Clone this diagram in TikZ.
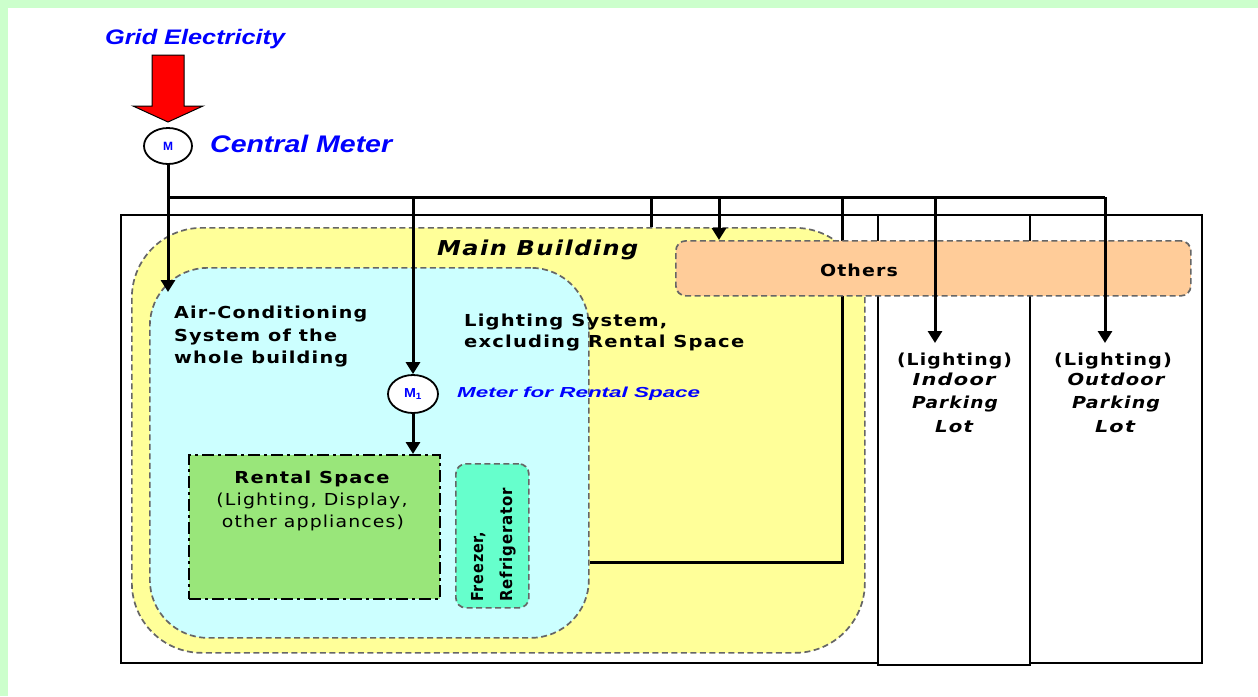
\documentclass[tikz,border=0pt]{standalone}
\usepackage{fontspec}
\usepackage{graphicx}
\usetikzlibrary{arrows.meta,shapes.geometric}
\newfontfamily\dvs[LetterSpace=6]{DejaVu Sans}
\newfontfamily\lib{Liberation Sans}
\definecolor{bggreen}{HTML}{CCFFCC}
\definecolor{mbyellow}{HTML}{FFFF99}
\definecolor{accyan}{HTML}{CCFFFF}
\definecolor{othorange}{HTML}{FFCC99}
\definecolor{rentgreen}{HTML}{99E67A}
\definecolor{frzgreen}{HTML}{66FFCC}
\definecolor{dashgray}{HTML}{666666}
\definecolor{metblue}{HTML}{0000FF}
\newcommand\fw[2]{\resizebox{#1pt}{\height}{#2}}
\newcommand\fs[1]{\fontsize{#1}{#1}\selectfont}
\begin{document}
\begin{tikzpicture}[x=1pt,y=-1pt,
  lotbox/.style={draw=black, line width=2pt, fill=white, inner sep=0pt, anchor=north west},
  zone/.style={draw=dashgray, line width=1.7pt, dash pattern=on 6pt off 3.5pt, inner sep=0pt, anchor=north west},
  feed/.style={draw=black, line width=3pt},
  arr/.style={feed, -{Triangle[width=14pt,length=12pt]}},
  meter/.style={ellipse, draw=black, fill=white, line width=1.8pt, minimum width=48pt, minimum height=36pt, inner sep=0pt},
  tx/.style={inner sep=0pt, anchor=base west},
  txc/.style={inner sep=0pt, anchor=base},
  bluetxt/.style={tx, text=metblue, font=\lib\bfseries\itshape},
  blk/.style={font=\dvs\bfseries},
  blki/.style={font=\dvs\bfseries\itshape}
]
\useasboundingbox (0,0) rectangle (1258,696);
% background
\fill[bggreen] (0,0) rectangle (1258,696);
\fill[white] (8,8) rectangle (1258,696);

% lots
\node[lotbox, minimum width=757pt, minimum height=448pt] (main) at (120,214) {};
\node[lotbox, minimum width=152pt, minimum height=450pt] (indoor) at (877,214) {};
\node[lotbox, minimum width=172pt, minimum height=448pt] (outdoor) at (1029,214) {};

% zones
\node[zone, fill=mbyellow, rounded corners=70pt, minimum width=733pt, minimum height=425pt] (mb) at (131,227) {};
\node[zone, fill=accyan, rounded corners=58pt, minimum width=439pt, minimum height=370pt] (aczone) at (149,267) {};

% lighting system feed (under Others)
\coordinate (j3) at (842,197);
\coordinate (lcorner) at (842,562);
\draw[feed] (j3) -- (lcorner) -- (lcorner -| aczone.east);

\node[zone, fill=othorange, rounded corners=10pt, minimum width=515pt, minimum height=55pt] (others) at (675,240) {};
\node[inner sep=0pt, anchor=north west, draw=black, line width=2pt, dash pattern=on 12pt off 4pt on 3pt off 4pt, fill=rentgreen, minimum width=251pt, minimum height=144pt] (rental) at (188,454) {};
\node[zone, fill=frzgreen, rounded corners=10pt, minimum width=73pt, minimum height=144pt] (freezer) at (455,463) {};

% grid arrow and meters
\draw[fill=red, draw=black, line width=1pt] (152,55) -- (184,55) -- (184,106) -- (203,106) -- (168,122) -- (133,106) -- (152,106) -- cycle;
\node[meter] (cm) at (168,146) {\textcolor{metblue}{\lib\bfseries\fs{12}\fw{10}{M}}};
\node[meter, minimum width=50pt, minimum height=38pt] (m1) at (413,394) {\textcolor{metblue}{\lib\bfseries\fs{13}\fw{18}{M\textsubscript{1}}}};

% feeders
\coordinate (bus0) at (168,197);
\coordinate (bus1) at (1105,197);
\coordinate (ac) at (168,292);
\coordinate (j1) at (651,197);
\coordinate (j2) at (719,197);
\coordinate (j4) at (935,197);
\coordinate (jm) at (413,197);
\coordinate (intip) at (935,343);
\coordinate (outtip) at (1105,343);
\draw[arr] (cm.south) -- (ac);
\draw[feed] (bus0) -- (bus1);
\draw[feed] (j1) -- (j1 |- mb.north);
\draw[arr] (j2) -- (j2 |- others.north);
\draw[arr] (j4) -- (intip);
\draw[arr] (bus1) -- (outtip);
\draw[arr] (jm) -- (m1.north);
\draw[arr] (m1.south) -- (m1.south |- rental.north);

% blue labels
\node[bluetxt] (tgrid) at (105,44) {\fs{21}\fw{180}{Grid Electricity}};
\node[bluetxt] (tcm) at (210,152) {\fs{24}\fw{182}{Central Meter}};
\node[bluetxt] (tm1) at (457,397) {\fs{14.5}\fw{243}{Meter for Rental Space}};

% black labels
\node[tx, blki] (tmb) at (437,255) {\fs{20.5}\fw{201}{Main Building}};
\node[tx, blk] (ac1) at (174,318) {\fs{16.5}\fw{193}{Air-Conditioning}};
\node[tx, blk] (ac2) at (174,341) {\fs{16.5}\fw{163}{System of the}};
\node[tx, blk] (ac3) at (174,363) {\fs{16.5}\fw{174}{whole building}};
\node[tx, blk] (ls1) at (464,326) {\fs{16.5}\fw{203}{Lighting System,}};
\node[tx, blk] (ls2) at (464,347) {\fs{16.5}\fw{280}{excluding Rental Space}};
\node[txc, blk] (toth) at (859,276) {\fs{16.5}\fw{78}{Others}};
\node[txc, blk] (in1) at (954.5,365) {\fs{16.5}\fw{115}{(Lighting)}};
\node[txc, blki] (in2) at (954,385) {\fs{16.5}\fw{83}{Indoor}};
\node[txc, blki] (in3) at (955,408) {\fs{16.5}\fw{86}{Parking}};
\node[txc, blki] (in4) at (954,432) {\fs{16.5}\fw{38}{Lot}};
\node[txc, blk] (out1) at (1113,365) {\fs{16.5}\fw{118}{(Lighting)}};
\node[txc, blki] (out2) at (1116,385) {\fs{16.5}\fw{97}{Outdoor}};
\node[txc, blki] (out3) at (1116,408) {\fs{16.5}\fw{88}{Parking}};
\node[txc, blki] (out4) at (1115,432) {\fs{16.5}\fw{40}{Lot}};
\node[txc, blk] (rs1) at (312,483) {\fs{16.5}\fw{155}{Rental Space}};
\node[txc, font=\dvs] (rs2) at (312,505) {\fs{16.5}\fw{191}{(Lighting, Display,}};
\node[txc, font=\dvs] (rs3) at (313,527) {\fs{16.5}\fw{182}{other appliances)}};
\node[tx, blk, rotate=90] (fz1) at (483,602) {\fs{16.5}\fw{70}{Freezer,}};
\node[tx, blk, rotate=90] (fz2) at (512,602) {\fs{16.5}\fw{114}{Refrigerator}};
\end{tikzpicture}
\end{document}
